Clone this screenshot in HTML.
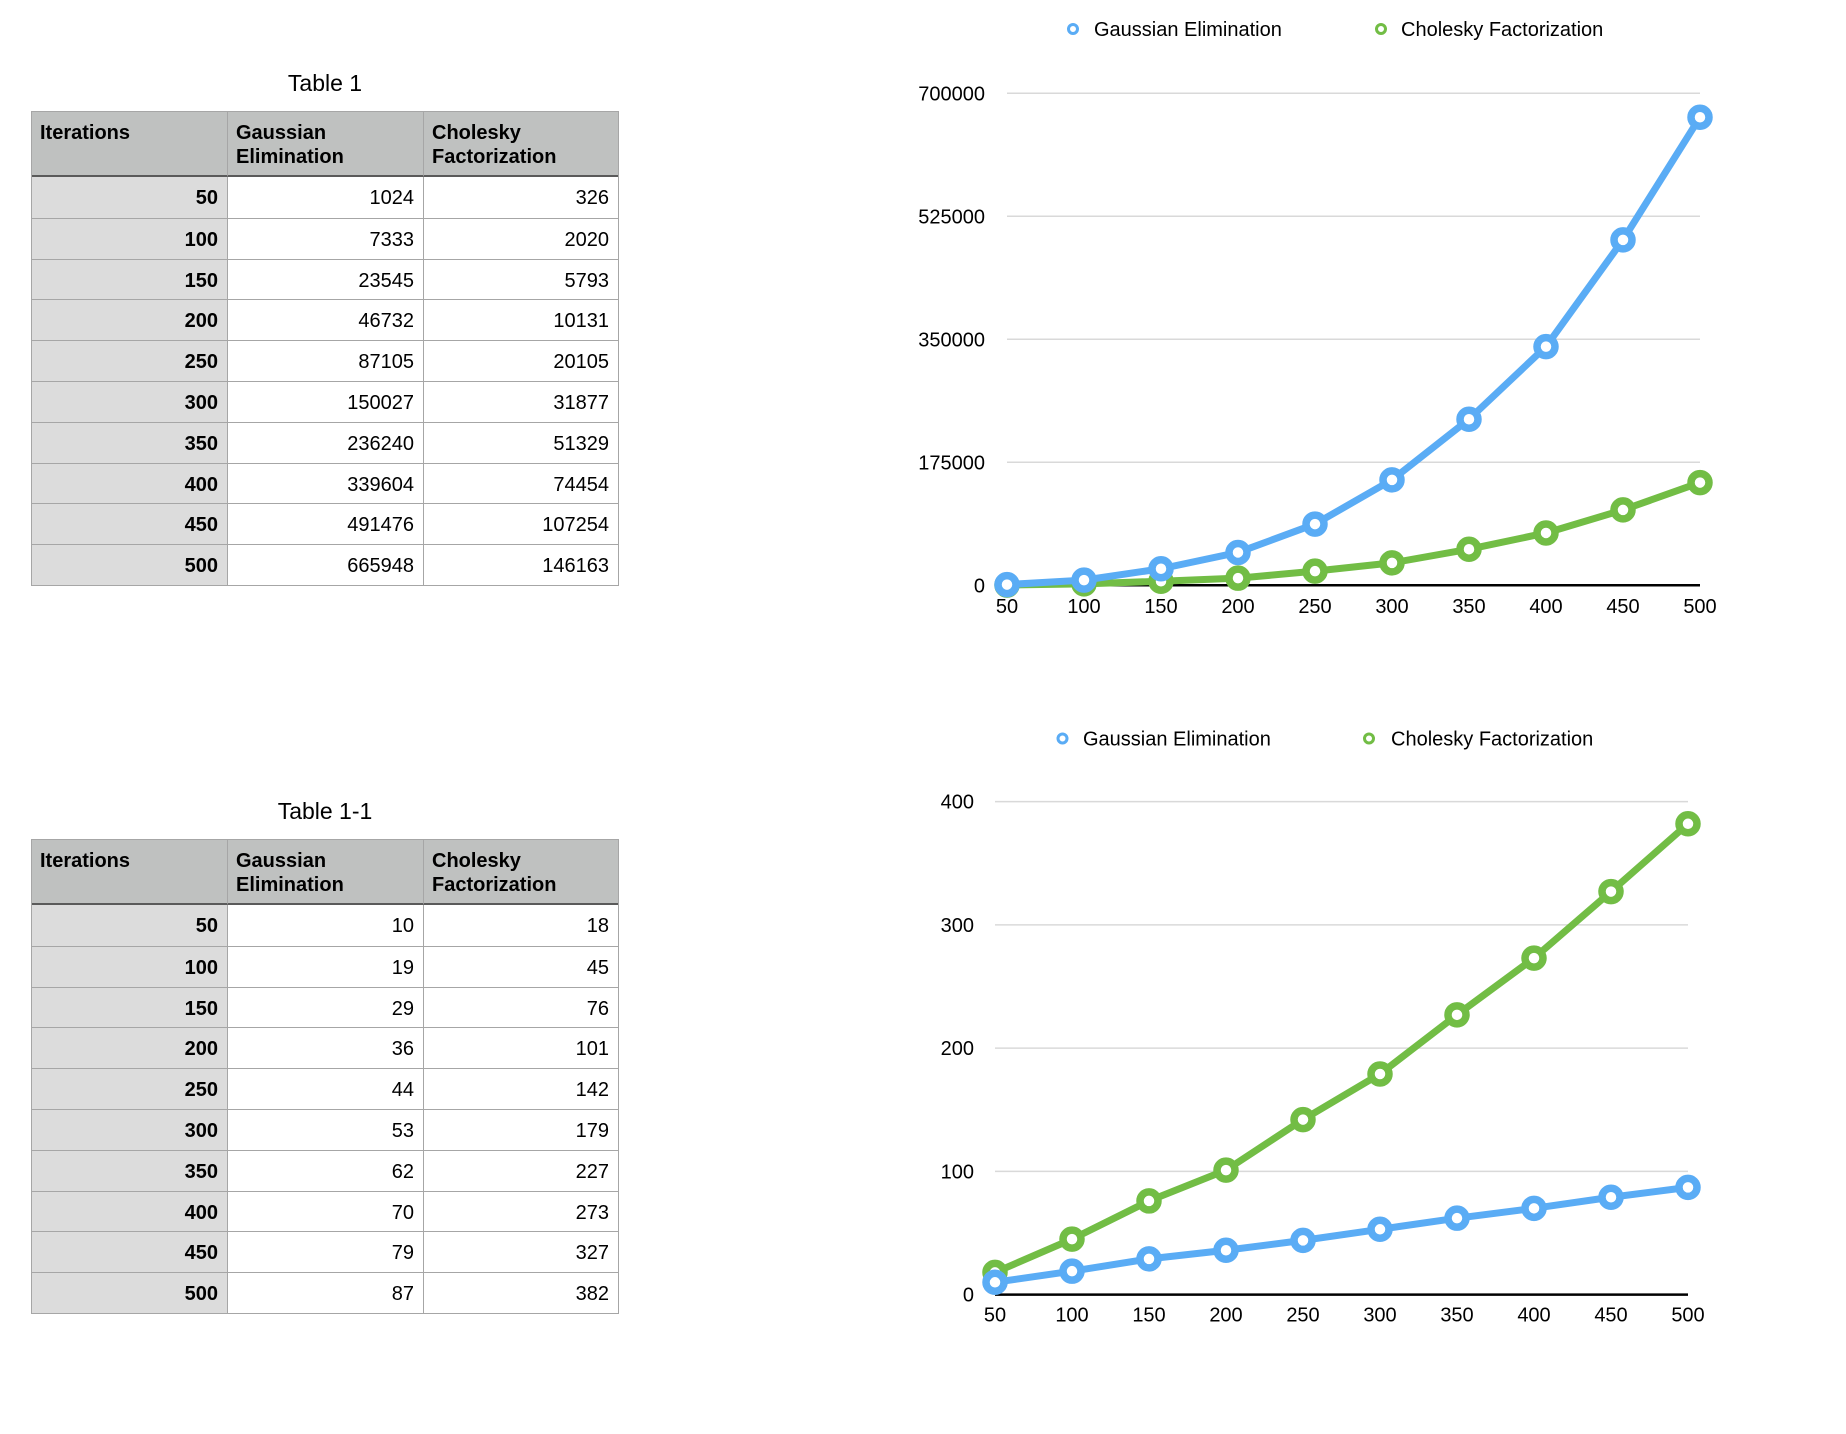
<!DOCTYPE html>
<html><head><meta charset="utf-8">
<style>
html,body{margin:0;padding:0;background:#fff;}
body{width:1846px;height:1434px;position:relative;overflow:hidden;font-family:"Liberation Sans",Arial,sans-serif;color:#000;}
.title{position:absolute;font-size:23px;text-align:center;width:588px;left:31px;}
.tbl{position:absolute;left:31px;width:586px;border:1px solid #a6a6a6;}
.cell{position:absolute;box-sizing:border-box;font-size:20px;}
.hd{background:#bfc1c0;font-weight:bold;padding:9px 8px 0 8px;line-height:24px;}
.lbl{background:#dcdcdc;font-weight:bold;text-align:right;padding-right:9px;}
.num{background:#fff;text-align:right;padding-right:9px;}
svg{position:absolute;left:0;top:0;}
</style></head>
<body>
<div class="title" style="top:70px">Table 1</div>
<div class="tbl" id="t1" style="top:111px;height:473px"></div>
<div class="title" style="top:798px">Table 1-1</div>
<div class="tbl" id="t2" style="top:839px;height:473px"></div>
<svg id="svg" width="1846" height="1434"></svg>
<script>
const iterations = [50,100,150,200,250,300,350,400,450,500];
const gauss1 = [1024,7333,23545,46732,87105,150027,236240,339604,491476,665948];
const chol1 = [326,2020,5793,10131,20105,31877,51329,74454,107254,146163];
const gauss2 = [10,19,29,36,44,53,62,70,79,87];
const chol2 = [18,45,76,101,142,179,227,273,327,382];
const yTicks1 = [0,175000,350000,525000,700000];
const yTicks2 = [0,100,200,300,400];
const BLUE = '#5aacf5', GREEN = '#72bd45';
const NS = 'http://www.w3.org/2000/svg';

function buildTable(id, g, c){
  const t = document.getElementById(id);
  const colX=[0,195,391,586], headH=65, rowH=40.8;
  const heads=['Iterations','Gaussian<br>Elimination','Cholesky<br>Factorization'];
  heads.forEach((h,i)=>{
    const d=document.createElement('div');
    d.className='cell hd';
    
    
    d.style.left=colX[i]+'px';d.style.top='0px';d.style.width=(colX[i+1]-colX[i])+'px';d.style.height=headH+'px';
    d.style.borderLeft=i?'1px solid #a6a6a6':'none';
    d.style.borderBottom='2px solid #5a5a5a';
    d.innerHTML=h;t.appendChild(d);
  });
  iterations.forEach((it,r)=>{
    const vals=[it,g[r],c[r]];
    vals.forEach((v,i)=>{
      const d=document.createElement('div');
      d.className='cell '+(i?'num':'lbl');
      
      
      const top=headH+r*rowH;
      d.style.left=colX[i]+'px';d.style.top=top+'px';d.style.width=(colX[i+1]-colX[i])+'px';d.style.height=rowH+'px';
      d.style.lineHeight=rowH+'px';
      d.style.paddingTop='1px';
      d.style.borderLeft=i?'1px solid #a6a6a6':'none';
      if(r>0) d.style.borderTop='1px solid #a6a6a6';
      d.textContent=v;t.appendChild(d);
    });
  });
}
buildTable('t1',gauss1,chol1);
buildTable('t2',gauss2,chol2);

const svg=document.getElementById('svg');
function el(tag,attrs,parent){const e=document.createElementNS(NS,tag);for(const k in attrs)e.setAttribute(k,attrs[k]);(parent||svg).appendChild(e);return e;}

function chart(cfg){
  const g=el('g',{});
  
  
  const max=cfg.ticks[cfg.ticks.length-1];
  const xs=i=>cfg.x0+(cfg.x1-cfg.x0)*i/(iterations.length-1);
  const ys=v=>cfg.y0-(cfg.y0-cfg.yTop)*v/max;
  cfg.ticks.forEach(t=>{
    if(t>0){const l=el('line',{x1:cfg.x0,x2:cfg.x1,y1:ys(t),y2:ys(t),stroke:'#d9d9d9','stroke-width':1.5},g);
      
      }
    const tx=el('text',{x:cfg.labelR,y:ys(t)+7,'text-anchor':'end','font-size':20,'font-family':'Liberation Sans, sans-serif'},g);
    
    
    tx.textContent=t;
  });
  const ax=el('line',{x1:cfg.x0,x2:cfg.x1,y1:cfg.y0,y2:cfg.y0,stroke:'#000','stroke-width':2.5},g);
  
  
  iterations.forEach((it,i)=>{
    const tx=el('text',{x:xs(i),y:cfg.xLabY+7,'text-anchor':'middle','font-size':20,'font-family':'Liberation Sans, sans-serif'},g);
    
    
    tx.textContent=it;
  });
  cfg.series.forEach(s=>{
    const pts=s.data.map((v,i)=>xs(i)+','+ys(v)).join(' ');
    const pl=el('polyline',{points:pts,fill:'none',stroke:s.color,'stroke-width':7,'stroke-linejoin':'round'},g);
    
    
    s.data.forEach((v,i)=>{
      const c=el('circle',{cx:xs(i),cy:ys(v),r:9,fill:'#fff',stroke:s.color,'stroke-width':7.5},g);
      
      
    });
  });
  cfg.legend.forEach(L=>{
    const c=el('circle',{cx:L.mx,cy:cfg.legY,r:4.5,fill:'#fff',stroke:L.color,'stroke-width':3},g);
    
    
    const t=el('text',{x:L.tx,y:cfg.legY+7,'font-size':20,'font-family':'Liberation Sans, sans-serif'},g);
    
    
    t.textContent=L.text;
  });
}
chart({name:'chart-1',x0:1007,x1:1700,yTop:93.3,y0:585.3,labelR:985,xLabY:606,legY:29,ticks:yTicks1,
  series:[{key:'cholesky',data:chol1,color:GREEN},{key:'gaussian',data:gauss1,color:BLUE}],
  legend:[{mx:1073,tx:1094,color:BLUE,text:'Gaussian Elimination'},{mx:1381,tx:1401,color:GREEN,text:'Cholesky Factorization'}]});
chart({name:'chart-2',x0:995,x1:1688,yTop:801.6,y0:1294.6,labelR:974,xLabY:1314.7,legY:738.5,ticks:yTicks2,
  series:[{key:'cholesky',data:chol2,color:GREEN},{key:'gaussian',data:gauss2,color:BLUE}],
  legend:[{mx:1062.5,tx:1083,color:BLUE,text:'Gaussian Elimination'},{mx:1369,tx:1391,color:GREEN,text:'Cholesky Factorization'}]});
</script>
</body></html>
